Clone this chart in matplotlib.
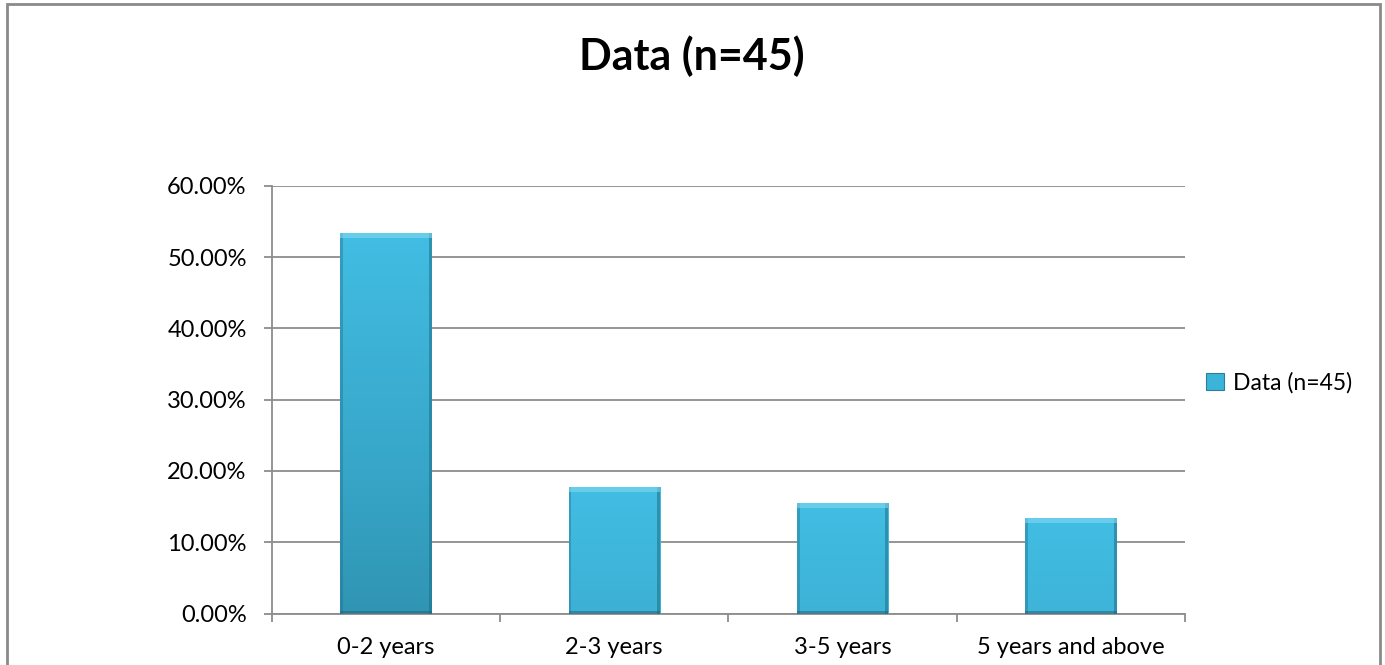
import numpy as np
import matplotlib.pyplot as plt
from matplotlib.patches import Rectangle, Patch
from matplotlib.colors import LinearSegmentedColormap

# Experience groups, share of respondents (n=45)
categories = ['0-2 years', '2-3 years', '3-5 years', '5 years and above']
shares = [53.33, 17.78, 15.56, 13.33]
series_name = 'Data (n=45)'
title = 'Data (n=45)'
y_ticks = [0, 10, 20, 30, 40, 50, 60]

plt.rcParams['font.family'] = ['Lato', 'DejaVu Sans']

W, H = 1385, 665
fig = plt.figure(figsize=(W / 100, H / 100), dpi=100)
ax = fig.add_axes([271.7 / W, 51.5 / H, 913.3 / W, 427.8 / H])

grid_col = '#8c8c8c'
bar_cmap = LinearSegmentedColormap.from_list('bar', ['#2c8aa6', '#37a6c8', '#42bde3'])

x = np.arange(len(categories))
width = 0.4
bars = ax.bar(x, shares, width, color='none', edgecolor='none', zorder=3)

# gradient fill with a soft bevel on each bar
for b, v in zip(bars, shares):
    x0 = b.get_x()
    frac = v / 60.0
    grad = np.linspace(1.0 - 0.9 * frac, 1.0, 200).reshape(-1, 1)
    im = ax.imshow(grad, cmap=bar_cmap, vmin=0, vmax=1, aspect='auto',
                   extent=(x0, x0 + width, 0, v), origin='lower', zorder=3)
    im.set_clip_path(b)
    # darker side edges
    ax.add_patch(Rectangle((x0, 0), width * 0.03, v, color='#1f6f88', alpha=0.4,
                           lw=0, zorder=4))
    ax.add_patch(Rectangle((x0 + width * 0.97, 0), width * 0.03, v, color='#1f6f88',
                           alpha=0.55, lw=0, zorder=4))
    # light top bevel
    ax.add_patch(Rectangle((x0, v - 0.7), width, 0.7, color='#8adcf4', alpha=0.55,
                           lw=0, zorder=4))
    # dark bottom edge
    ax.add_patch(Rectangle((x0, 0), width, 0.35, color='#1c6379', alpha=0.5,
                           lw=0, zorder=4))

ax.set_xlim(-0.5, len(categories) - 0.5)
ax.set_ylim(0, 60)
ax.set_yticks(y_ticks)
ax.set_yticklabels([f'{t:.2f}%' for t in y_ticks])
ax.yaxis.grid(True, color=grid_col, lw=1.3, zorder=0)
ax.set_axisbelow(True)

ax.set_xticks(x)
ax.set_xticklabels(categories)
ax.set_xticks(np.arange(len(categories) + 1) - 0.5, minor=True)
ax.tick_params(axis='x', which='major', length=0, pad=17, labelsize=17)
ax.tick_params(axis='x', which='minor', length=6, width=1.3, color=grid_col, direction='out')
ax.tick_params(axis='y', length=6, width=1.3, color=grid_col, pad=12, labelsize=17)

for s in ['top', 'right']:
    ax.spines[s].set_visible(False)
for s in ['left', 'bottom']:
    ax.spines[s].set_color(grid_col)
    ax.spines[s].set_linewidth(1.3)

fig.text(692 / W, 1 - 56 / H, title, ha='center', va='center', fontsize=31,
         fontweight='bold')

handle = Patch(facecolor='#3cb3d8', edgecolor='#2a7f99', lw=0.8)
fig.legend([handle], [series_name], loc='center left',
           bbox_to_anchor=(1195 / W, 1 - 383 / H), frameon=False, fontsize=16.5,
           handlelength=0.75, handleheight=0.75, handletextpad=0.4, borderpad=0)

# chart border
fig.add_artist(Rectangle((6.5 / W, -0.02), 1373 / W, 1.02 - 4.5 / H,
                         transform=fig.transFigure, fill=False, ec='#8a8a8a', lw=2))

fig.savefig('out.png', dpi=100)
